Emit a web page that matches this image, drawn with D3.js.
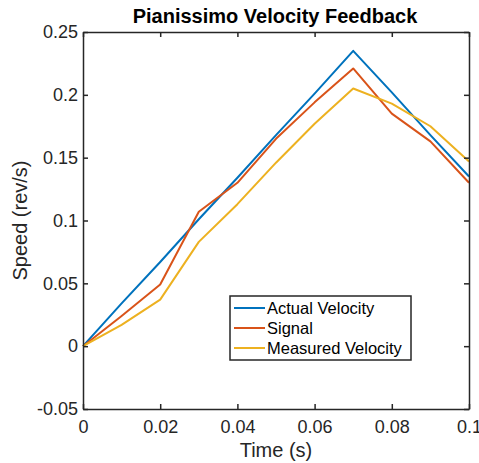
<!DOCTYPE html>
<html>
<head>
<meta charset="utf-8">
<script src="https://cdn.jsdelivr.net/npm/d3@7"></script>
<style>
  body { margin: 0; background: #fff; }
  text { font-family: "Liberation Sans", Arial, sans-serif; }
</style>
</head>
<body>
<div id="chart"></div>
<script>
// data
const time = [0, 0.01, 0.02, 0.03, 0.04, 0.05, 0.06, 0.07, 0.08, 0.09, 0.1]
const actualVelocity = [0, 0.034, 0.067, 0.101, 0.134, 0.168, 0.201, 0.235, 0.202, 0.168, 0.135]
const signal = [0, 0.024, 0.049, 0.107, 0.130, 0.165, 0.194, 0.221, 0.185, 0.163, 0.130]
const measuredVelocity = [0, 0.017, 0.037, 0.083, 0.113, 0.146, 0.177, 0.205, 0.193, 0.175, 0.147]
const seriesNames = ["Actual Velocity", "Signal", "Measured Velocity"]
const xTicks = [0, 0.02, 0.04, 0.06, 0.08, 0.1]
const yTicks = [-0.05, 0, 0.05, 0.1, 0.15, 0.2, 0.25]

const width = 479
const height = 463
const margin = {top: 32, right: 10, bottom: 54, left: 83}
const colors = ["#0072BD", "#D95319", "#EDB120"]
const axisColor = "#262626"

const svg = d3.select("#chart").append("svg")
    .attr("width", width)
    .attr("height", height)

const x = d3.scaleLinear().domain([0, 0.1]).range([margin.left, width - margin.right])
const y = d3.scaleLinear().domain([-0.05, 0.25]).range([height - margin.bottom, margin.top])

// matlab style labels: plain hyphen for minus
const fmt = d => String(+d.toFixed(3))

// lines
const series = [actualVelocity, signal, measuredVelocity]
const line = d3.line()
    .x((d, i) => x(time[i]))
    .y(d => y(d))

svg.append("g")
    .selectAll("path")
    .data(series)
    .join("path")
    .attr("d", line)
    .attr("fill", "none")
    .attr("stroke", (d, i) => colors[i])
    .attr("stroke-width", 2)
    .attr("stroke-linejoin", "round")

// axes, ticks pointing inward, box all round
svg.append("g")
    .attr("transform", `translate(0,${y(-0.05)})`)
    .call(d3.axisBottom(x).tickValues(xTicks).tickSizeInner(-5).tickSizeOuter(0).tickPadding(11)
        .tickFormat(fmt))
svg.append("g")
    .attr("transform", `translate(${x(0)},0)`)
    .call(d3.axisLeft(y).tickValues(yTicks).tickSizeInner(-5).tickSizeOuter(0).tickPadding(5)
        .tickFormat(fmt))
svg.append("g")
    .attr("transform", `translate(0,${y(0.25)})`)
    .call(d3.axisTop(x).tickValues(xTicks).tickSizeInner(-5).tickSizeOuter(0).tickFormat(""))
svg.append("g")
    .attr("transform", `translate(${x(0.1)},0)`)
    .call(d3.axisRight(y).tickValues(yTicks).tickSizeInner(-5).tickSizeOuter(0).tickFormat(""))

svg.selectAll(".domain, .tick line")
    .attr("stroke", axisColor)
    .attr("stroke-width", 1.5)
svg.selectAll(".tick text")
    .attr("fill", axisColor)
    .style("font-size", "18px")
    .style("font-family", "'Liberation Sans', Arial, sans-serif")

// title and labels
svg.append("text")
    .attr("x", 275)
    .attr("y", 23)
    .attr("text-anchor", "middle")
    .style("font-size", "20px")
    .style("font-weight", "bold")
    .attr("fill", "#000")
    .text("Pianissimo Velocity Feedback")

svg.append("text")
    .attr("x", (x(0) + x(0.1)) / 2)
    .attr("y", 457)
    .attr("text-anchor", "middle")
    .style("font-size", "20px")
    .attr("fill", axisColor)
    .text("Time (s)")

svg.append("text")
    .attr("transform", `translate(27,${(y(-0.05) + y(0.25)) / 2}) rotate(-90)`)
    .attr("text-anchor", "middle")
    .style("font-size", "20px")
    .attr("fill", axisColor)
    .text("Speed (rev/s)")

// legend
const legend = svg.append("g").attr("transform", "translate(230,296)")
legend.append("rect")
    .attr("width", 181)
    .attr("height", 64)
    .attr("fill", "#fff")
    .attr("stroke", axisColor)
    .attr("stroke-width", 1.5)

const items = legend.selectAll("g.item")
    .data(seriesNames)
    .join("g")
    .attr("class", "item")
    .attr("transform", (d, i) => `translate(0,${12 + i * 20})`)
items.append("line")
    .attr("x1", 4).attr("x2", 35)
    .attr("stroke", (d, i) => colors[i])
    .attr("stroke-width", 2)
items.append("text")
    .attr("x", 37)
    .attr("dy", "0.35em")
    .style("font-size", "16.5px")
    .attr("fill", "#000")
    .text(d => d)
</script>
</body>
</html>
